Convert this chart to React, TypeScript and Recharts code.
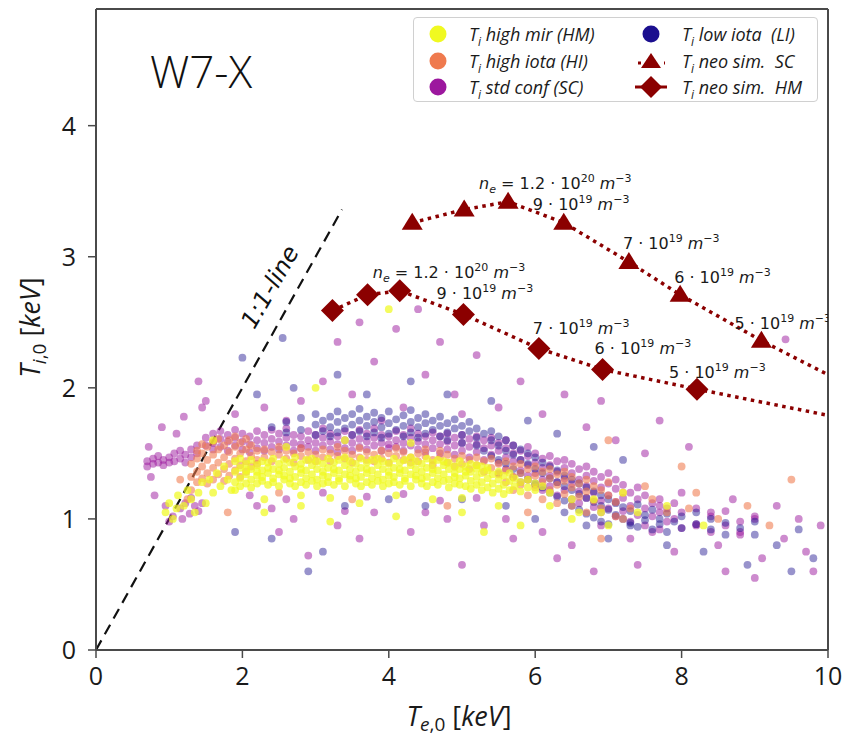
import React from 'react';
import { ScatterChart, Scatter, XAxis, YAxis, ReferenceLine, Legend, Label } from 'recharts';

const W = 845;
const H = 738;
const X_TICKS = [0, 2, 4, 6, 8, 10];
const Y_TICKS = [0, 1, 2, 3, 4];
const X_DOMAIN: [number, number] = [0, 10];
const Y_DOMAIN: [number, number] = [0, 4.89];

const C_HM = '#f0f921';
const C_HI = '#ef7a4e';
const C_SC = '#9c179e';
const C_LI = '#1b0f8f';
const C_NEO = '#8b0000';

// Each row: [Te, Ti1, Ti2, ...] -> points sharing the same Te reading
// T_i high mirror (HM)
const HM_ROWS: number[][] = [
  [0.95,1.05],[1.0,1.12],[1.05,1.0],[1.1,1.08],[1.12,1.18],[1.2,1.1],[1.25,1.22],[1.3,1.15],[1.35,1.05],[1.4,1.2],
  [1.45,1.28],[1.5,1.12],[1.55,1.3],[1.6,1.2],[1.65,1.35],[1.7,1.25],[1.75,1.4],[1.8,1.3],[1.85,1.22],
  [1.90,1.28,1.36,1.44,1.22],[1.97,1.31,1.39,1.25,1.46],[2.05,1.34,1.42,1.27,1.37],[2.12,1.30,1.38,1.45,1.24],
  [2.20,1.33,1.41,1.27,1.36],[2.27,1.29,1.37,1.44,1.32],[2.35,1.35,1.43,1.26,1.39],[2.42,1.31,1.38,1.46,1.28],
  [2.50,1.34,1.42,1.25,1.37],[2.57,1.30,1.39,1.45,1.33],[2.65,1.36,1.43,1.27,1.31],[2.72,1.32,1.40,1.47,1.25],
  [2.80,1.35,1.42,1.28,1.38],[2.87,1.31,1.37,1.45,1.26],[2.95,1.34,1.41,1.29,1.46],[3.02,1.30,1.38,1.44,1.25],
  [3.10,1.36,1.42,1.27,1.33],[3.17,1.32,1.39,1.46,1.28],[3.25,1.35,1.43,1.26,1.38],[3.32,1.31,1.37,1.45,1.29],
  [3.40,1.34,1.41,1.25,1.47],[3.47,1.30,1.38,1.44,1.33],[3.55,1.36,1.42,1.27,1.31],[3.62,1.32,1.39,1.46,1.25],
  [3.70,1.35,1.43,1.28,1.38],[3.77,1.31,1.37,1.45,1.26],[3.85,1.34,1.41,1.29,1.46],[3.92,1.30,1.38,1.44,1.25],
  [4.00,1.36,1.42,1.27,1.33],[4.07,1.32,1.39,1.46,1.28],[4.15,1.35,1.43,1.26,1.38],[4.22,1.31,1.37,1.45,1.29],
  [4.30,1.34,1.41,1.25,1.47],[4.37,1.30,1.38,1.44,1.33],[4.45,1.36,1.42,1.27,1.31],[4.52,1.32,1.39,1.46,1.25],
  [4.60,1.35,1.43,1.28,1.38],[4.67,1.31,1.37,1.45,1.26],[4.75,1.34,1.41,1.29,1.44],[4.82,1.30,1.38,1.43,1.24],
  [4.90,1.35,1.40,1.27,1.32],[4.97,1.31,1.38,1.44,1.26],[5.05,1.33,1.40,1.25,1.36],[5.12,1.29,1.36,1.42,1.23],
  [5.20,1.32,1.38,1.26,1.41],[5.27,1.28,1.35,1.40,1.22],[5.35,1.31,1.37,1.24,1.39],[5.42,1.27,1.34,1.20],
  [5.50,1.30,1.36,1.23],[5.57,1.26,1.33,1.19],[5.65,1.29,1.35,1.22],[5.72,1.25,1.31],[5.80,1.28,1.21],
  [5.90,1.24,1.30],[6.00,1.22,1.27],[6.10,1.25],
  [2.3,1.05,1.15],[2.8,1.1,1.18],[3.2,0.98,1.16],[3.6,1.12],[4.1,1.02,1.18],[4.6,1.15],[5.0,1.05,1.16],[5.5,1.1],
  [5.8,0.95],[6.2,1.1],[6.5,1.0,1.15],[6.8,1.15],[7.0,0.95],[7.4,1.05],[7.8,1.1],[8.3,0.95],[2.6,1.55],[3.4,1.6],
  [4.3,1.58],[3.0,2.0],[4.0,2.6],[6.2,1.2],[6.6,1.05],[5.3,0.9],[1.6,1.6],[7.2,1.2],[6.9,1.05],
];

// T_i high iota (HI)
const HI_ROWS: number[][] = [
  [1.30,1.32,1.42,1.22],[1.38,1.36,1.46,1.28,1.52],[1.45,1.40,1.50,1.31,1.57],[1.52,1.35,1.45,1.55,1.27],
  [1.60,1.39,1.49,1.59,1.30],[1.67,1.43,1.53,1.34,1.61],[1.75,1.38,1.47,1.56,1.29],[1.82,1.42,1.51,1.60,1.33],
  [1.90,1.37,1.46,1.55,1.63],[1.97,1.41,1.50,1.58,1.32],[2.05,1.44,1.53,1.61,1.36],[2.12,1.40,1.48,1.56],
  [2.20,1.45,1.52,1.42],[1.25,1.15],[1.15,1.3],
  [2.30,1.47,1.53],[2.40,1.44,1.51],[2.50,1.49,1.55],[2.60,1.46,1.52],[2.70,1.43,1.50],[2.80,1.48,1.54],
  [2.90,1.45,1.51],[3.00,1.49,1.44],[3.10,1.47,1.53],[3.20,1.44,1.50],[3.30,1.48,1.55],[3.40,1.46,1.52],
  [3.50,1.43,1.49],[3.60,1.47,1.54],[3.70,1.45,1.51],[3.80,1.49,1.44],[3.90,1.46,1.52],[4.00,1.43,1.50],
  [4.10,1.48,1.54],[4.20,1.45,1.51],[4.30,1.47,1.43],[4.40,1.44,1.50],[4.50,1.48,1.53],[4.60,1.45,1.41],
  [4.70,1.47,1.52],[4.80,1.43,1.49],[4.90,1.46,1.40],[5.00,1.42,1.48],[5.10,1.45,1.38],[5.20,1.41,1.47],
  [5.30,1.44,1.36],[5.40,1.39,1.46],[5.50,1.42,1.34],[5.60,1.37,1.44,1.28],[5.70,1.40,1.32,1.22],
  [5.80,1.35,1.42,1.26],[5.90,1.38,1.30,1.18],[6.00,1.33,1.24,1.40],[6.10,1.36,1.28,1.15],[6.20,1.31,1.22,1.38],
  [6.30,1.34,1.26,1.12],[6.40,1.29,1.19,1.36],[6.50,1.32,1.24,1.10],[6.60,1.27,1.17],[6.70,1.30,1.21,1.05],
  [6.80,1.25,1.14],[6.90,1.22,1.08],[7.00,1.18,1.28],[7.10,1.13,1.02],[7.20,1.20],[7.30,1.08],
  [7.2,1.0],[7.5,1.25],[7.8,1.05],[8.2,1.2],[8.5,1.0],[8.9,1.1],[9.2,0.95],[6.9,0.85],[5.9,1.05],[4.8,1.1],
  [3.5,1.15],[2.5,1.2],[7.0,1.6],[9.5,1.3],[8.0,1.4],[1.8,1.05],[7.6,1.15],[8.1,1.08],
];

// T_i standard configuration (SC)
const SC_ROWS: number[][] = [
  [0.70,1.44,1.40],[0.78,1.46,1.42],[0.85,1.43,1.48],[0.92,1.45,1.41],[1.00,1.47,1.43],[1.07,1.44,1.50],
  [1.15,1.46,1.52],[1.22,1.49,1.43],[1.30,1.53,1.47],[1.38,1.50,1.56],
  [1.15,1.08],[1.22,1.12],[1.28,1.04],[1.35,1.10],[1.30,1.16],[1.40,1.06],[1.18,1.00],[1.05,1.02],[0.95,1.10],[1.45,1.12],
  [0.75,1.32],[0.9,1.7],[1.1,1.65],[0.8,1.18],[1.0,0.98],[0.72,1.55],[1.2,1.78],[1.45,1.85],
  [1.50,1.56,1.62],[1.60,1.58,1.53,1.65],[1.70,1.55,1.61,1.67],[1.80,1.59,1.52,1.64],[1.90,1.56,1.62,1.68],
  [2.00,1.53,1.59,1.65],[2.10,1.57,1.63,1.51],[2.20,1.54,1.60,1.67],[2.30,1.58,1.64,1.52],[2.40,1.55,1.61,1.68],
  [2.50,1.59,1.53,1.65],[2.60,1.56,1.62,1.69],[2.70,1.52,1.58,1.64],[2.80,1.57,1.63,1.54],[2.90,1.55,1.60,1.67],
  [3.00,1.58,1.52,1.64],[3.10,1.56,1.62,1.69],[3.20,1.53,1.59,1.65],[3.30,1.57,1.63,1.51],[3.40,1.54,1.60,1.67],
  [3.50,1.58,1.64,1.52],[3.60,1.55,1.61,1.68],[3.70,1.59,1.53,1.65],[3.80,1.56,1.62,1.69],[3.90,1.52,1.58,1.64],
  [4.00,1.57,1.63,1.54],[4.10,1.55,1.60,1.67],[4.20,1.58,1.52,1.64],[4.30,1.56,1.62,1.69],[4.40,1.53,1.59,1.65],
  [4.50,1.57,1.63,1.51],[4.60,1.54,1.60,1.66],[4.70,1.57,1.63,1.50],[4.80,1.53,1.59,1.65],[4.90,1.56,1.62,1.49],
  [5.00,1.52,1.58,1.64],[5.10,1.55,1.61,1.47],[5.20,1.51,1.57,1.63],[5.30,1.54,1.60,1.45],[5.40,1.49,1.56,1.62],
  [5.50,1.52,1.58,1.43,1.35],[5.60,1.47,1.54,1.60,1.38],[5.70,1.50,1.44,1.56,1.32],[5.80,1.45,1.52,1.37,1.28],
  [5.90,1.48,1.41,1.55,1.33],[6.00,1.43,1.50,1.35,1.26],[6.10,1.46,1.39,1.30,1.22],[6.20,1.41,1.48,1.33,1.25],
  [6.30,1.44,1.36,1.28,1.18],[6.40,1.39,1.31,1.45,1.22],[6.50,1.35,1.27,1.42,1.15],[6.60,1.38,1.30,1.21,1.12],
  [6.70,1.33,1.25,1.40,1.16],[6.80,1.29,1.20,1.36,1.09],[6.90,1.32,1.24,1.14,1.05],[7.00,1.27,1.18,1.35,1.08],
  [7.10,1.23,1.13,1.30,1.02],[7.20,1.26,1.16,1.06],[7.30,1.20,1.10,0.98],[7.40,1.15,1.24,1.03],[7.50,1.18,1.08,0.95],
  [7.60,1.12,1.02],[7.70,1.15,1.05,0.92],[7.80,1.08,0.98],[7.90,1.12,1.00],[8.00,1.05,0.93],[8.20,1.08,0.96],
  [8.40,1.02,0.90],[8.60,1.06,0.95],[8.80,0.98,0.88],[9.00,1.02],
  [2.1,1.18],[2.6,1.15],[3.1,1.20],[3.7,1.17],[4.2,1.19],[4.7,1.14],[5.2,1.16],[2.4,1.08],[3.4,1.06],[4.5,1.05],[5.6,1.00],
  [2.3,1.85],[2.8,1.9],[3.1,2.05],[3.5,1.95],[3.8,2.2],[4.2,1.85],[4.5,2.1],[4.9,1.95],[5.2,2.25],[5.5,1.85],
  [5.8,2.05],[6.1,1.8],[6.4,1.95],[3.3,2.35],[4.7,2.35],[2.6,1.75],[3.9,1.75],[5.0,1.8],[6.7,1.7],[7.1,1.6],
  [7.5,1.5],[1.5,1.9],[1.9,1.8],[1.4,2.05],[4.1,2.45],[3.6,2.5],[4.4,2.6],[6.9,1.9],[7.7,1.75],[8.1,1.55],[9.42,2.37],
  [2.2,1.1],[2.7,1.0],[3.3,0.95],[3.8,1.05],[4.3,0.9],[4.8,1.0],[5.3,0.95],[5.7,0.85],[6.1,0.9],[6.5,0.8],
  [6.9,0.95],[7.3,0.85],[7.6,0.9],[7.9,0.75],[8.2,0.95],[8.5,0.8],[8.8,0.9],[9.1,0.7],[9.4,0.85],[9.7,0.75],
  [9.9,0.95],[7.7,1.1],[8.0,1.2],[8.4,1.05],[8.7,1.15],[9.0,1.0],[9.3,1.1],[9.6,1.0],[9.8,0.6],[8.6,0.6],
  [7.4,0.65],[6.3,0.7],[5.0,0.65],[2.9,0.72],[9.0,0.55],[6.8,0.6],[3.6,0.85],[2.5,0.9],
];

// T_i low iota (LI)
const LI_ROWS: number[][] = [
  [2.40,1.70],[2.60,1.74,1.66],[2.80,1.68,1.77],[3.00,1.72,1.64,1.80],[3.10,1.67,1.75],[3.20,1.70,1.78,1.63],
  [3.30,1.74,1.66,1.82],[3.40,1.69,1.77],[3.50,1.72,1.64,1.80],[3.60,1.67,1.75,1.84],[3.70,1.71,1.63,1.78],
  [3.80,1.66,1.74,1.81],[3.90,1.70,1.77,1.62],[4.00,1.73,1.65,1.82],[4.10,1.68,1.76],[4.20,1.71,1.63,1.79],
  [4.30,1.66,1.74,1.83],[4.40,1.70,1.77,1.62],[4.50,1.73,1.65,1.80],[4.60,1.68,1.75],[4.70,1.71,1.63,1.78],
  [4.80,1.66,1.73,1.60],[4.90,1.69,1.76],[5.00,1.64,1.71,1.58],[5.10,1.67,1.74],[5.20,1.62,1.69,1.56],
  [5.30,1.65,1.52],[5.40,1.60,1.67,1.48],[5.50,1.56,1.63,1.45],[5.60,1.52,1.60,1.42],[5.70,1.49,1.56,1.38],
  [5.80,1.45,1.53,1.35],[5.90,1.42,1.50,1.30],[6.00,1.38,1.47,1.27],[6.10,1.35,1.43,1.24],[6.20,1.31,1.40,1.20],
  [6.30,1.28,1.37,1.17],[6.40,1.25,1.33,1.14],[6.50,1.22,1.30,1.10],[6.60,1.19,1.27,1.07],[6.70,1.16,1.24,1.04],
  [6.80,1.13,1.21,1.01],[6.90,1.10,1.18,0.98],[7.00,1.07,1.15,0.96],[7.10,1.12,1.03],[7.20,1.09,1.00],
  [7.30,1.06,0.97],[7.40,1.11,0.94],[7.50,1.03,0.99],[7.60,1.07,0.92],[7.70,1.00,0.96],[7.80,1.04,0.90],
  [7.90,0.98],[8.00,1.02,0.93],[8.20,0.96,1.05],[8.40,0.92,1.00],[8.60,0.97,0.88],[8.80,0.93],[9.00,0.88,0.98],
  [9.3,0.8],[9.6,0.92],[9.8,0.7],
  [2.2,1.95],[2.7,2.0],[3.3,2.1],[3.7,1.95],[4.3,2.05],[4.8,1.95],[5.4,1.9],[5.9,1.75],[6.3,1.65],[6.8,1.55],
  [7.2,1.45],[1.9,0.9],[2.4,0.85],[3.1,0.75],[3.4,1.1],[4.0,1.15],[4.5,1.1],[5.0,1.15],[5.6,1.1],[6.0,1.0],
  [6.4,1.05],[6.7,0.95],[7.0,0.85],[7.3,0.95],[7.8,0.8],[8.3,0.75],[8.9,0.65],[9.5,0.6],[2.0,2.23],[2.55,2.38],[2.9,0.6],
];

// Neoclassical simulations
const NEO_SC_X = [4.32, 5.03, 5.63, 6.39, 7.28, 7.98, 9.09, 10.0];
const NEO_SC_Y = [3.26, 3.36, 3.42, 3.26, 2.96, 2.71, 2.36, 2.10];
const NEO_SC_MARK = [true, true, true, true, true, true, true, false];
const NEO_SC_LABEL: (string[] | null)[] = [null, null, ['1.2', '20', 'ne'], ['9', '19'], ['7', '19'], ['6', '19'], ['5', '19'], null];

const NEO_HM_X = [3.23, 3.71, 4.15, 5.02, 6.05, 6.92, 8.21, 10.0];
const NEO_HM_Y = [2.59, 2.71, 2.74, 2.56, 2.30, 2.14, 1.99, 1.79];
const NEO_HM_MARK = [true, true, true, true, true, true, true, false];
const NEO_HM_LABEL: (string[] | null)[] = [null, null, ['1.2', '20', 'ne'], ['9', '19'], ['7', '19'], ['6', '19'], ['5', '19'], null];

// label placement (pixels relative to marker)
const SC_LABEL_DX = [0, 0, -29, -31, -6, -6, -27, 0];
const SC_LABEL_DY = [0, 0, -13, -13, -13, -12, -12, 0];
const HM_LABEL_DX = [0, 0, -27, -27, -6, -8, -28, 0];
const HM_LABEL_DY = [0, 0, -13, -15, -15, -15, -11, 0];

const ONE_TO_ONE = [{ x: 0, y: 0 }, { x: 3.36, y: 3.36 }];

const rowsToXY = (rows: number[][]) =>
  rows.flatMap(([x, ...ys]) => ys.map((y) => ({ x, y })));
const hmData = rowsToXY(HM_ROWS);
const hiData = rowsToXY(HI_ROWS);
const scData = rowsToXY(SC_ROWS);
const liData = rowsToXY(LI_ROWS);
const neoScData = NEO_SC_X.map((x, i) => ({ x, y: NEO_SC_Y[i], i }));
const neoHmData = NEO_HM_X.map((x, i) => ({ x, y: NEO_HM_Y[i], i }));

const TICK_FONT = "'Open Sans', 'DejaVu Sans', sans-serif";
const MATH_FONT = "'DejaVu Sans', sans-serif";

const makeDot = (color: string, op: number) => (p: any) => (
  <circle cx={p.cx} cy={p.cy} r={3.9} fill={color} fillOpacity={op} stroke="none" />
);

const DensityLabel = ({ x, y, lab }: { x: number; y: number; lab: string[] }) => {
  const fs = 16;
  const sfs = 11;
  return (
    <text x={x} y={y} fontSize={fs} fill="#1a1a1a" fontFamily={MATH_FONT}>
      {lab[2] ? (
        <>
          <tspan fontStyle="italic">n</tspan>
          <tspan fontStyle="italic" fontSize={sfs} dy={4}>e</tspan>
          <tspan dy={-4}>{' = '}</tspan>
        </>
      ) : null}
      <tspan>{lab[0] + ' \u00b7 10'}</tspan>
      <tspan fontSize={sfs} dy={-7}>{lab[1]}</tspan>
      <tspan dy={7} fontStyle="italic">{' m'}</tspan>
      <tspan fontSize={sfs} dy={-7}>{'\u22123'}</tspan>
    </text>
  );
};

const makeNeoShape = (
  kind: 'tri' | 'dia',
  marks: boolean[],
  labels: (string[] | null)[],
  dxs: number[],
  dys: number[],
) => (p: any) => {
  const { cx, cy } = p;
  const i = p.payload?.i ?? 0;
  if (!marks[i]) return <g />;
  const marker =
    kind === 'tri' ? (
      <polygon points={`${cx},${cy - 10} ${cx - 10.5},${cy + 7} ${cx + 10.5},${cy + 7}`} fill={C_NEO} />
    ) : (
      <polygon points={`${cx},${cy - 11.5} ${cx + 11.5},${cy} ${cx},${cy + 11.5} ${cx - 11.5},${cy}`} fill={C_NEO} />
    );
  const lab = labels[i];
  return (
    <g>
      {marker}
      {lab ? <DensityLabel x={cx + dxs[i]} y={cy + dys[i]} lab={lab} /> : null}
    </g>
  );
};

const LegendIcon = ({ kind, color }: { kind: string; color: string }) => {
  if (kind === 'dot')
    return (
      <svg width={44} height={22}>
        <circle cx={22} cy={11} r={8.5} fill={color} />
      </svg>
    );
  if (kind === 'tri')
    return (
      <svg width={44} height={22}>
        <line x1={8} y1={13} x2={36} y2={13} stroke={C_NEO} strokeWidth={3} strokeDasharray="3 10" strokeDashoffset={-1} />
        <polygon points="22,3 12,18 32,18" fill={C_NEO} />
      </svg>
    );
  return (
    <svg width={44} height={22}>
      <line x1={6} y1={11} x2={38} y2={11} stroke={C_NEO} strokeWidth={3} />
      <polygon points="22,0 33,11 22,22 11,11" fill={C_NEO} />
    </svg>
  );
};

const LEGEND_ITEMS = [
  { kind: 'dot', color: C_HM, text: 'high mir (HM)' },
  { kind: 'dot', color: C_LI, text: 'low iota  (LI)' },
  { kind: 'dot', color: C_HI, text: 'high iota (HI)' },
  { kind: 'tri', color: C_NEO, text: 'neo sim.  SC' },
  { kind: 'dot', color: C_SC, text: 'std conf (SC)' },
  { kind: 'dia', color: C_NEO, text: 'neo sim.  HM' },
];

const LegendBox = () => (
  <div
    style={{
      width: 405,
      height: 85,
      boxSizing: 'border-box',
      border: '1.5px solid #d0d0d0',
      borderRadius: 4,
      background: 'rgba(255,255,255,0.85)',
      display: 'grid',
      gridTemplateColumns: '215px 190px',
      gridAutoRows: '26.5px',
      paddingTop: 3,
      fontFamily: "'Open Sans', sans-serif",
      fontStyle: 'italic',
      fontSize: 18,
      color: '#1a1a1a',
    }}
  >
    {LEGEND_ITEMS.map((it, k) => (
      <div key={k} style={{ display: 'flex', alignItems: 'center', paddingLeft: k % 2 === 0 ? 2 : 0 }}>
        <LegendIcon kind={it.kind} color={it.color} />
        <span style={{ marginLeft: 9, whiteSpace: 'pre', lineHeight: '20px' }}>
          T<sub style={{ fontSize: 12, lineHeight: 0 }}>i</sub> {it.text}
        </span>
      </div>
    ))}
  </div>
);

const XTitle = (props: any) => {
  const vb = props.viewBox;
  const cx = vb.x + vb.width / 2 - 3;
  return (
    <text x={cx} y={vb.y + 76} textAnchor="middle" fontSize={27} fill="#1a1a1a" fontFamily={TICK_FONT}>
      <tspan fontStyle="italic">T</tspan>
      <tspan fontSize={19} dy={5}>
        <tspan fontStyle="italic">e</tspan>,0
      </tspan>
      <tspan dy={-5}>{' ['}</tspan>
      <tspan fontStyle="italic">keV</tspan>
      <tspan>]</tspan>
    </text>
  );
};

const YTitle = (props: any) => {
  const vb = props.viewBox;
  const cy = vb.y + vb.height / 2 - 2;
  const bx = 40;
  return (
    <text
      transform={`translate(${bx}, ${cy}) rotate(-90)`}
      textAnchor="middle"
      fontSize={27}
      fill="#1a1a1a"
      fontFamily={TICK_FONT}
    >
      <tspan fontStyle="italic">T</tspan>
      <tspan fontSize={19} dy={6}>
        <tspan fontStyle="italic">i</tspan>,0
      </tspan>
      <tspan dy={-6}>{' ['}</tspan>
      <tspan fontStyle="italic">keV</tspan>
      <tspan>]</tspan>
    </text>
  );
};

const FRAME = '#4a4a4a';

export default function App() {
  return (
    <div style={{ position: 'absolute', left: 0, top: 0, width: W, height: H, background: '#fff' }}>
      <ScatterChart width={W} height={H} margin={{ top: 9, right: 17, bottom: 28, left: 36 }}>
        <XAxis
          type="number"
          dataKey="x"
          domain={X_DOMAIN}
          ticks={X_TICKS}
          allowDataOverflow
          height={60}
          tickSize={8}
          tickMargin={9}
          axisLine={{ stroke: FRAME, strokeWidth: 2 }}
          tickLine={{ stroke: FRAME, strokeWidth: 1.5 }}
          tick={{ fontSize: 25, fill: '#1a1a1a', fontFamily: TICK_FONT }}
        >
          <Label content={XTitle} />
        </XAxis>
        <YAxis
          type="number"
          dataKey="y"
          domain={Y_DOMAIN}
          ticks={Y_TICKS}
          allowDataOverflow
          width={60}
          tickSize={8}
          tickMargin={12}
          axisLine={{ stroke: FRAME, strokeWidth: 2 }}
          tickLine={{ stroke: FRAME, strokeWidth: 1.5 }}
          tick={{ fontSize: 25, fill: '#1a1a1a', fontFamily: TICK_FONT }}
        >
          <Label content={YTitle} />
        </YAxis>
        <ReferenceLine x={X_DOMAIN[1]} stroke={FRAME} strokeWidth={2} />
        <ReferenceLine y={Y_DOMAIN[1]} stroke={FRAME} strokeWidth={2} />

        <Scatter name="SC" data={scData} shape={makeDot(C_SC, 0.5)} isAnimationActive={false} legendType="none" />
        <Scatter name="LI" data={liData} shape={makeDot(C_LI, 0.45)} isAnimationActive={false} legendType="none" />
        <Scatter name="HI" data={hiData} shape={makeDot(C_HI, 0.58)} isAnimationActive={false} legendType="none" />
        <Scatter name="HM" data={hmData} shape={makeDot(C_HM, 0.72)} isAnimationActive={false} legendType="none" />

        <ReferenceLine
          segment={ONE_TO_ONE}
          stroke="#111"
          strokeWidth={2.2}
          strokeDasharray="11 7"
          ifOverflow="visible"
        />

        <Scatter
          name="neoSC"
          data={neoScData}
          line={{ stroke: C_NEO, strokeWidth: 3.5, strokeDasharray: '3.5 4.5' }}
          shape={makeNeoShape('tri', NEO_SC_MARK, NEO_SC_LABEL, SC_LABEL_DX, SC_LABEL_DY)}
          isAnimationActive={false}
          legendType="none"
        />
        <Scatter
          name="neoHM"
          data={neoHmData}
          line={{ stroke: C_NEO, strokeWidth: 3.5, strokeDasharray: '3.5 4.5' }}
          shape={makeNeoShape('dia', NEO_HM_MARK, NEO_HM_LABEL, HM_LABEL_DX, HM_LABEL_DY)}
          isAnimationActive={false}
          legendType="none"
        />

        <Legend
          layout="horizontal"
          verticalAlign="middle"
          align="center"
          content={() => <LegendBox />}
          wrapperStyle={{ position: 'absolute', top: 17, left: 413, width: 405, height: 85 }}
        />
      </ScatterChart>
      <svg
        width={W}
        height={H}
        style={{ position: 'absolute', left: 0, top: 0, pointerEvents: 'none' }}
      >
        <text x={150} y={88} fontSize={44} fontWeight={300} fill="#111" fontFamily={TICK_FONT}>
          W7-X
        </text>
        <text
          transform="translate(277, 291) rotate(-60)"
          textAnchor="middle"
          fontSize={24}
          fontStyle="italic"
          fill="#111"
          fontFamily={MATH_FONT}
        >
          1:1-line
        </text>
      </svg>
    </div>
  );
}
